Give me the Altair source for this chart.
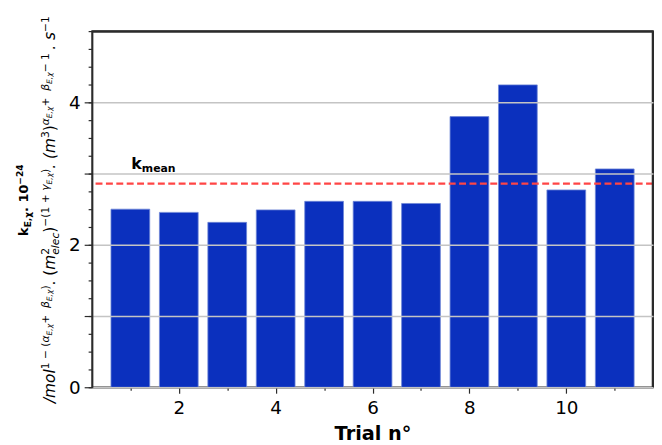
import altair as alt
import pandas as pd

# ---- data ----
trials = [1, 2, 3, 4, 5, 6, 7, 8, 9, 10, 11]
k_values = [2.50, 2.455, 2.315, 2.49, 2.61, 2.61, 2.58, 3.80, 4.245, 2.77, 3.065]

x_major_ticks = [2, 4, 6, 8, 10]
x_minor_ticks = [1, 3, 5, 7, 9, 11]
y_major_ticks = [0, 1, 2, 3, 4]
y_minor_ticks = [i * 0.25 for i in range(0, 21)]

kmean_pos = (1.02, 3.06)

df = pd.DataFrame({"trial": trials, "k": k_values})

FONT = "DejaVu Sans"
BAR = "#0b30be"
SPINE = "#2b2b2b"
W, H = 567, 360
xs = alt.Scale(domain=[0.21, 11.79], nice=False, zero=False)
ys = alt.Scale(domain=[0, 5], nice=False)

base = alt.Chart(df)

bars = base.transform_calculate(
    lo="datum.trial - 0.4", hi="datum.trial + 0.4"
).mark_bar(color=BAR, stroke="#6e86d6", strokeWidth=1, strokeOpacity=0.8).encode(
    x=alt.X("lo:Q", scale=xs, axis=alt.Axis(
        orient="bottom", values=x_major_ticks, tickSize=6, tickWidth=1.2, tickColor=SPINE,
        domain=True, domainColor=SPINE, domainWidth=1.6,
        grid=False, labelFontSize=18.5, labelFont=FONT, labelColor="black",
        labelPadding=6, title="Trial n°", titleFont=FONT, titleFontSize=19.5,
        titleFontWeight="bold", titleColor="black", titlePadding=7)),
    x2="hi:Q",
    y=alt.Y("k:Q", scale=ys, axis=alt.Axis(
        orient="left", values=y_major_ticks, tickSize=8, tickWidth=1.2, tickColor=SPINE,
        labelExpr="datum.value % 2 == 0 ? datum.label : ''",
        domain=True, domainColor=SPINE, domainWidth=1.6,
        grid=True, gridColor="#c4c4c4", gridWidth=1.5, zindex=1,
        labelFontSize=18.5, labelFont=FONT, labelColor="black", labelPadding=4, title=None)),
    y2=alt.datum(0),
)

minor = base.mark_point(opacity=0).encode(
    x=alt.X("trial:Q", scale=xs, axis=alt.Axis(
        orient="bottom", values=x_minor_ticks, tickSize=3, tickWidth=1.2, tickColor=SPINE,
        labels=False, domain=False, grid=False, title=None)),
    y=alt.Y("k:Q", scale=ys, axis=alt.Axis(
        orient="left", values=y_minor_ticks, tickSize=4, tickWidth=1.2, tickColor=SPINE,
        labels=False, domain=False, grid=False, title=None)),
)

# top and right spines as axis domains
frame_axes = base.mark_point(opacity=0).encode(
    x=alt.X("trial:Q", scale=xs, axis=alt.Axis(
        orient="top", ticks=False, labels=False, domain=True, domainColor=SPINE,
        domainWidth=1.6, grid=False, title=None)),
    y=alt.Y("k:Q", scale=ys, axis=alt.Axis(
        orient="right", ticks=False, labels=False, domain=True, domainColor=SPINE,
        domainWidth=1.6, grid=False, title=None)),
)

mean_rule = base.mark_rule(color="#ff4545", strokeWidth=2.2, strokeDash=[7, 3.5]).encode(
    y=alt.Y("mean(k):Q", scale=ys, axis=None)
)

# plot frame as rules as well (top and right)
one = pd.DataFrame({"f": [0]})
spine_style = dict(color=SPINE, strokeWidth=1.6)
spines = [
    alt.Chart(one).mark_rule(**spine_style).encode(x=alt.value(0), x2=alt.value(W), y=alt.value(0.5)),
    alt.Chart(one).mark_rule(**spine_style).encode(x=alt.value(W - 0.5), y=alt.value(0), y2=alt.value(H)),
]

# k_mean annotation
kdf = pd.DataFrame({"x": [kmean_pos[0]], "y": [kmean_pos[1]], "a": ["k"], "b": ["mean"]})
k_main = alt.Chart(kdf).mark_text(font=FONT, fontSize=16, fontWeight="bold", align="left",
                                  baseline="alphabetic", color="black").encode(
    x=alt.X("x:Q", scale=xs, axis=None), y=alt.Y("y:Q", scale=ys, axis=None), text="a:N")
k_sub = alt.Chart(kdf).mark_text(font=FONT, fontSize=11, fontWeight="bold", align="left",
                                 baseline="alphabetic", color="black", dx=10.6, dy=2.5).encode(
    x=alt.X("x:Q", scale=xs, axis=None), y=alt.Y("y:Q", scale=ys, axis=None), text="b:N")

# ---- rotated y-axis title built from pieces (math-like sub/superscripts) ----
WIDTH = {'/': .337, 'm': .974, 'o': .612, 'l': .278, '1': .636, '2': .636, '3': .636,
         '−': .838, '+': .838, '(': .390, ')': .390, '.': .318, ' ': .318, ',': .318,
         'E': .632, 'e': .615, 'c': .550, 's': .521, 'α': .659, 'β': .638, 'γ': .592,
         'χ': .592, 'k': .611, '0': .636, '4': .636}
WIDTH_B = {'k': .665, 'E': .683, ',': .380, 'χ': .650, '.': .380, ' ': .348,
           '1': .696, '0': .696, '−': .838, '2': .696, '4': .696}


def title_line(parts, x0, y0, size, bold=False):
    """parts: list of (text, level[, 'stack']) -> list of layered text charts."""
    table = WIDTH_B if bold else WIDTH
    layers = []
    pos = 0.0
    for txt, lvl, *opt in parts:
        scale, dy = {"base": (1.0, 0.0), "sup": (0.7, -0.40), "ss": (0.49, -0.22),
                     "sub": (0.7, 0.26)}[lvl]
        fs = size * scale
        italic = (not bold) and not all(ch in "0123456789−+() .," for ch in txt)
        d = pd.DataFrame({"t": [txt]})
        layers.append(alt.Chart(d).mark_text(
            font=FONT, fontSize=fs, fontWeight="bold" if bold else "normal",
            fontStyle="italic" if italic else "normal", angle=270, align="left",
            baseline="alphabetic", dx=pos, dy=dy * size, color="black").encode(
            text="t:N", x=alt.value(x0), y=alt.value(y0)))
        w = sum(table.get(ch, .6) for ch in txt) * fs
        if not (opt and opt[0] == "stack"):
            pos += w
    return layers


line1_parts = [("k", "base"), ("E,χ", "sub"), (". 10", "base"), ("−24", "sup")]
line2_parts = [
    ("/mol", "base"), ("1 − (", "sup"), ("α", "sup"), ("E,χ", "ss"), (" + ", "sup"),
    ("β", "sup"), ("E,χ", "ss"), (")", "sup"), (". (", "base"), ("m", "base"),
    ("2", "sup", "stack"), ("elec", "sub"), (")", "base"), ("−(1 + ", "sup"),
    ("γ", "sup"), ("E,χ", "ss"), (")", "sup"), (". (m", "base"), ("3", "sup"),
    (")", "base"), ("α", "sup"), ("E,χ", "ss"), (" + ", "sup"), ("β", "sup"),
    ("E,χ", "ss"), (" − 1", "sup"), (". s", "base"), ("−1", "sup"),
]

line1 = title_line(line1_parts, -65, 207, 13, bold=True)
line2 = title_line(line2_parts, -37, 376, 15.5)

chart = alt.layer(
    bars, minor, frame_axes, mean_rule, *spines, k_main, k_sub, *line1, *line2
).resolve_axis(x="independent", y="independent").properties(
    width=W, height=H,
    padding={"left": 85, "top": 21, "right": 1, "bottom": 55},
    autosize=alt.AutoSizeParams(type="none"),
).configure_view(stroke=SPINE, strokeWidth=1.6)

chart.save("out.html", embed_options={"renderer": "svg", "actions": False})
